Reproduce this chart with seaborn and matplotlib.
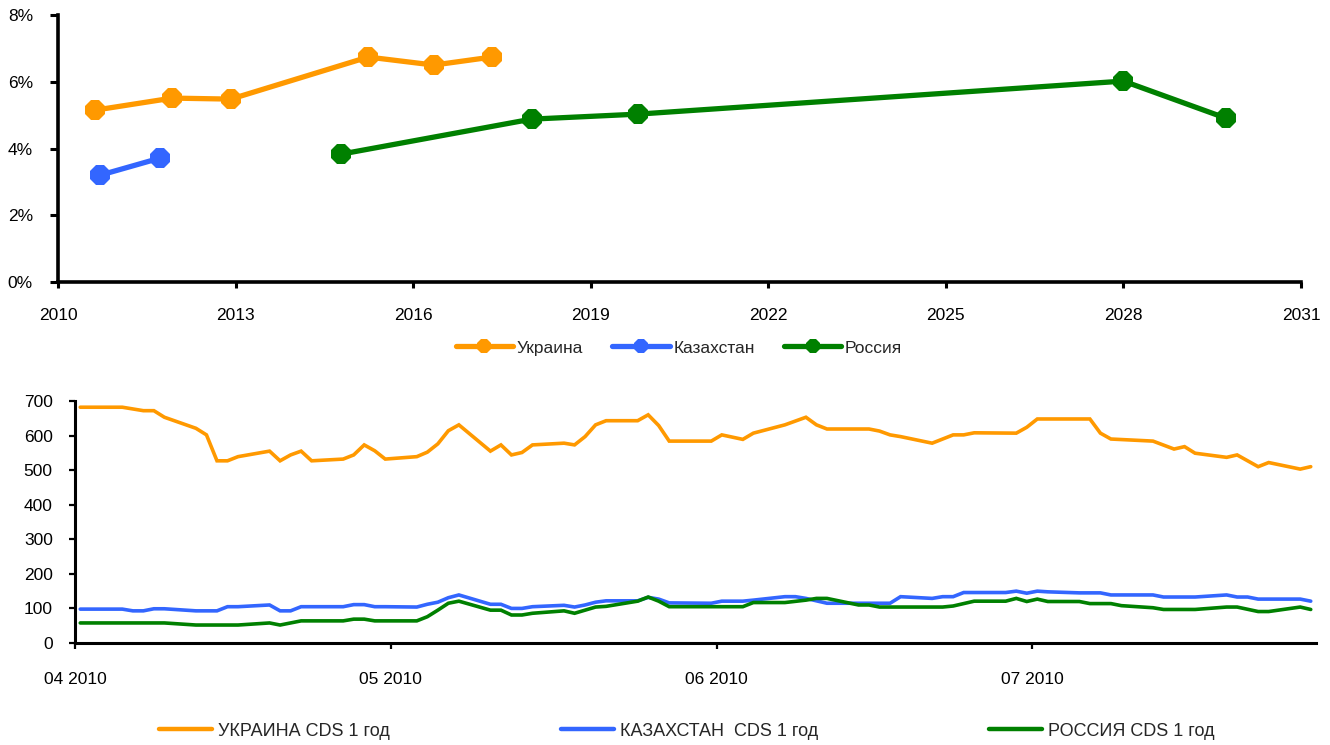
import matplotlib
matplotlib.use("Agg")
import matplotlib.pyplot as plt
import matplotlib.dates as mdates
from matplotlib.ticker import FuncFormatter, MultipleLocator
import seaborn as sns
import pandas as pd

# ---- Eurobond yields by maturity (top panel) ----
ukr_years = [2010.63, 2011.93, 2012.92, 2015.24, 2016.35, 2017.33]
ukr_yield = [5.15, 5.51, 5.48, 6.74, 6.50, 6.74]
kaz_years = [2010.71, 2011.72]
kaz_yield = [3.20, 3.71]
rus_years = [2014.78, 2018.00, 2019.80, 2028.00, 2029.73]
rus_yield = [3.83, 4.88, 5.03, 6.02, 4.91]
top_labels = ["Украина", "Казахстан", "Россия"]

# ---- 1-year CDS spreads, bp (bottom panel) ----
ukr_dates = ["2010-04-01", "2010-04-05", "2010-04-07", "2010-04-08", "2010-04-09", "2010-04-12",
             "2010-04-13", "2010-04-14", "2010-04-15", "2010-04-16", "2010-04-19", "2010-04-20",
             "2010-04-21", "2010-04-22", "2010-04-23", "2010-04-26", "2010-04-27", "2010-04-28",
             "2010-04-29", "2010-04-30", "2010-05-03", "2010-05-04", "2010-05-05", "2010-05-06",
             "2010-05-07", "2010-05-10", "2010-05-11", "2010-05-12", "2010-05-13", "2010-05-14",
             "2010-05-17", "2010-05-18", "2010-05-19", "2010-05-20", "2010-05-21", "2010-05-24",
             "2010-05-25", "2010-05-26", "2010-05-27", "2010-05-31", "2010-06-01", "2010-06-03",
             "2010-06-04", "2010-06-07", "2010-06-09", "2010-06-10", "2010-06-11", "2010-06-15",
             "2010-06-16", "2010-06-17", "2010-06-18", "2010-06-21", "2010-06-23", "2010-06-24",
             "2010-06-25", "2010-06-29", "2010-06-30", "2010-07-01", "2010-07-06", "2010-07-07",
             "2010-07-08", "2010-07-12", "2010-07-14", "2010-07-15", "2010-07-16", "2010-07-19",
             "2010-07-20", "2010-07-22", "2010-07-23", "2010-07-26", "2010-07-27"]
ukr_cds = [682, 682, 672, 672, 653, 621,
           602, 527, 527, 539, 555, 527,
           544, 555, 527, 532, 544, 573,
           556, 532, 539, 552, 576, 614,
           631, 555, 573, 544, 551, 573,
           578, 573, 597, 631, 643, 643,
           660, 629, 584, 584, 602, 589,
           607, 631, 653, 631, 619, 619,
           613, 602, 597, 578, 602, 602,
           608, 607, 624, 648, 648, 607,
           590, 584, 561, 568, 549, 537,
           544, 510, 522, 503, 510]

kaz_dates = ["2010-04-01", "2010-04-05", "2010-04-06", "2010-04-07", "2010-04-08", "2010-04-09",
             "2010-04-12", "2010-04-14", "2010-04-15", "2010-04-16", "2010-04-19", "2010-04-20",
             "2010-04-21", "2010-04-22", "2010-04-26", "2010-04-27", "2010-04-28", "2010-04-29",
             "2010-04-30", "2010-05-03", "2010-05-04", "2010-05-05", "2010-05-06", "2010-05-07",
             "2010-05-10", "2010-05-11", "2010-05-12", "2010-05-13", "2010-05-14", "2010-05-17",
             "2010-05-18", "2010-05-19", "2010-05-20", "2010-05-21", "2010-05-24", "2010-05-25",
             "2010-05-26", "2010-05-27", "2010-05-31", "2010-06-01", "2010-06-03", "2010-06-04",
             "2010-06-07", "2010-06-08", "2010-06-09", "2010-06-11", "2010-06-17", "2010-06-18",
             "2010-06-21", "2010-06-22", "2010-06-23", "2010-06-24", "2010-06-28", "2010-06-29",
             "2010-06-30", "2010-07-01", "2010-07-02", "2010-07-05", "2010-07-07", "2010-07-08",
             "2010-07-12", "2010-07-13", "2010-07-16", "2010-07-19", "2010-07-20", "2010-07-21",
             "2010-07-22", "2010-07-26", "2010-07-27"]
kaz_cds = [98, 98, 93, 93, 99, 99,
           93, 93, 105, 105, 110, 93,
           93, 105, 105, 111, 111, 105,
           105, 104, 112, 118, 131, 139,
           112, 112, 100, 100, 105, 109,
           104, 110, 118, 122, 122, 132,
           127, 116, 115, 121, 121, 124,
           134, 134, 129, 115, 115, 134,
           129, 134, 134, 146, 146, 150,
           144, 150, 148, 145, 145, 139,
           139, 133, 133, 139, 133, 133,
           127, 127, 121]

rus_dates = ["2010-04-01", "2010-04-09", "2010-04-12", "2010-04-16", "2010-04-19", "2010-04-20",
             "2010-04-22", "2010-04-26", "2010-04-27", "2010-04-28", "2010-04-29", "2010-04-30",
             "2010-05-03", "2010-05-04", "2010-05-05", "2010-05-06", "2010-05-07", "2010-05-10",
             "2010-05-11", "2010-05-12", "2010-05-13", "2010-05-14", "2010-05-17", "2010-05-18",
             "2010-05-19", "2010-05-20", "2010-05-21", "2010-05-24", "2010-05-25", "2010-05-26",
             "2010-05-27", "2010-05-31", "2010-06-03", "2010-06-04", "2010-06-07", "2010-06-09",
             "2010-06-10", "2010-06-11", "2010-06-14", "2010-06-15", "2010-06-16", "2010-06-22",
             "2010-06-23", "2010-06-25", "2010-06-28", "2010-06-29", "2010-06-30", "2010-07-01",
             "2010-07-02", "2010-07-05", "2010-07-06", "2010-07-08", "2010-07-09", "2010-07-12",
             "2010-07-13", "2010-07-16", "2010-07-19", "2010-07-20", "2010-07-22", "2010-07-23",
             "2010-07-26", "2010-07-27"]
rus_cds = [58, 58, 52, 52, 58, 52,
           64, 64, 69, 69, 64, 64,
           64, 76, 95, 115, 121, 95,
           95, 81, 81, 86, 93, 86,
           95, 104, 106, 121, 133, 121,
           105, 105, 105, 117, 117, 124,
           129, 129, 110, 110, 104, 104,
           107, 121, 121, 129, 120, 127,
           120, 120, 114, 114, 108, 102,
           97, 97, 104, 104, 91, 91,
           104, 97]
cds_labels = ["УКРАИНА CDS 1 год", "КАЗАХСТАН  CDS 1 год", "РОССИЯ CDS 1 год"]

colors = ["#FF9900", "#3366FF", "#008000"]

sns.set_theme(style="ticks")
plt.rcParams["font.family"] = ["Liberation Sans", "DejaVu Sans"]

fig = plt.figure(figsize=(13.3, 7.45), dpi=100, facecolor="white")

# ---------------- top panel ----------------
ax1 = fig.add_axes([58 / 1330, 1 - 282 / 745, (1301 - 58) / 1330, (282 - 15) / 745])
top = pd.concat([
    pd.DataFrame({"year": ukr_years, "yield": ukr_yield, "country": top_labels[0]}),
    pd.DataFrame({"year": kaz_years, "yield": kaz_yield, "country": top_labels[1]}),
    pd.DataFrame({"year": rus_years, "yield": rus_yield, "country": top_labels[2]}),
])
for lab, col in zip(top_labels, colors):
    sub = top[top["country"] == lab]
    sns.lineplot(data=sub, x="year", y="yield", ax=ax1, color=col, lw=3.8,
                 marker="8", markersize=15, markeredgewidth=0, label=lab,
                 legend=False, sort=False, solid_capstyle="round")
ax1.set_xlim(2010, 2031)
ax1.set_ylim(0, 8)
ax1.xaxis.set_major_locator(MultipleLocator(3))
ax1.yaxis.set_major_locator(MultipleLocator(2))
ax1.yaxis.set_major_formatter(FuncFormatter(lambda v, p: f"{v:.0f}%"))
ax1.xaxis.set_major_formatter(FuncFormatter(lambda v, p: f"{v:.0f}"))
ax1.set_xlabel("")
ax1.set_ylabel("")
for s in ["top", "right"]:
    ax1.spines[s].set_visible(False)
for s in ["left", "bottom"]:
    ax1.spines[s].set_linewidth(2.6)
    ax1.spines[s].set_color("black")
ax1.tick_params(axis="y", direction="out", length=6, width=2.2, pad=12, labelsize=12.5, colors="black")
ax1.tick_params(axis="x", direction="out", length=4, width=2.2, pad=15, labelsize=12.5, colors="black")

h1 = ax1.get_lines()[:3]
fig.legend(h1, top_labels, loc="center", bbox_to_anchor=(679 / 1330, 1 - 348 / 745), ncol=3,
           frameon=False, fontsize=12.5, handlelength=3.3, handletextpad=0.2,
           columnspacing=1.7, markerscale=0.75)

# ---------------- bottom panel ----------------
ax2 = fig.add_axes([75 / 1330, 1 - 643 / 745, (1316 - 75) / 1330, (643 - 401) / 745])
cds = pd.concat([
    pd.DataFrame({"date": pd.to_datetime(ukr_dates), "cds": ukr_cds, "series": cds_labels[0]}),
    pd.DataFrame({"date": pd.to_datetime(kaz_dates), "cds": kaz_cds, "series": cds_labels[1]}),
    pd.DataFrame({"date": pd.to_datetime(rus_dates), "cds": rus_cds, "series": cds_labels[2]}),
])
# daily points sit in the middle of their day
cds["date"] = cds["date"] + pd.Timedelta(hours=12)
sns.lineplot(data=cds, x="date", y="cds", hue="series", palette=colors, ax=ax2,
             lw=2.6, legend=False, solid_joinstyle="miter")
ax2.set_xlim(pd.Timestamp("2010-04-01"), pd.Timestamp("2010-07-28"))
ax2.set_ylim(0, 700)
ax2.yaxis.set_major_locator(MultipleLocator(100))
ax2.xaxis.set_major_locator(mdates.MonthLocator())
ax2.xaxis.set_major_formatter(mdates.DateFormatter("%m %Y"))
ax2.set_xlabel("")
ax2.set_ylabel("")
for s in ["top", "right"]:
    ax2.spines[s].set_visible(False)
for s in ["left", "bottom"]:
    ax2.spines[s].set_linewidth(2.2)
    ax2.spines[s].set_color("black")
ax2.tick_params(axis="y", direction="out", length=4, width=1.6, pad=12, labelsize=12.5, colors="black")
ax2.tick_params(axis="x", direction="out", length=4, width=1.6, pad=17, labelsize=12.5, colors="black")

h2 = ax2.get_lines()[:3]
leg2 = fig.legend(h2, cds_labels, loc="center left", bbox_to_anchor=(143 / 1330, 1 - 731 / 745),
                  ncol=3, frameon=False, handlelength=2.93, handletextpad=0.33,
                  columnspacing=9.47, fontsize=13)
for l in leg2.get_lines():
    l.set_linewidth(3.2)

fig.savefig("out.png", dpi=100, facecolor="white")
